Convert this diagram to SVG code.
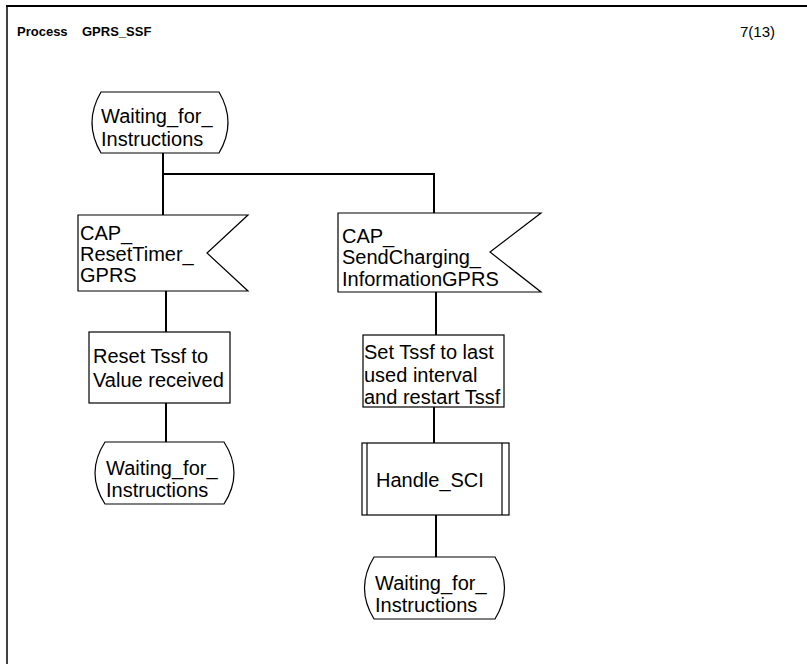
<svg xmlns="http://www.w3.org/2000/svg" width="807" height="664" viewBox="0 0 807 664">
<style>
.shape{fill:#fff;stroke:#000;stroke-width:1.2}
.conn{fill:none;stroke:#000;stroke-width:2}
.lbl{font-family:"Liberation Sans",Arial,sans-serif;font-size:20px;fill:#000}
.hdr{font-family:"Liberation Sans",Arial,sans-serif;font-size:13px;fill:#000}
.pg{font-size:15px}
</style>
<rect x="0" y="0" width="807" height="664" fill="#fff"/>
<g id="frame">
<line x1="6" y1="6" x2="807" y2="6" stroke="#000" stroke-width="2"/>
<line x1="7" y1="6" x2="7" y2="664" stroke="#000" stroke-width="1.5"/>
<text class="hdr" x="17" y="36" font-weight="bold">Process</text>
<text class="hdr" x="82" y="36" font-weight="bold">GPRS_SSF</text>
<text class="hdr pg" x="740" y="37">7(13)</text>
</g>
<g id="connectors">
<polyline class="conn" points="163,153 163,215"/>
<polyline class="conn" points="163,174 434,174 434,213"/>
<line class="conn" x1="166" y1="291" x2="166" y2="332"/>
<line class="conn" x1="166" y1="403" x2="166" y2="442"/>
<line class="conn" x1="436" y1="292" x2="436" y2="335"/>
<line class="conn" x1="434" y1="407" x2="434" y2="443"/>
<line class="conn" x1="436" y1="515" x2="436" y2="557"/>
</g>
<g id="state1">
<path class="shape" d="M101,92 L219,92 Q237,122.5 219,153 L101,153 Q83,122.5 101,92 Z"/>
<text class="lbl" x="101" y="123">Waiting_for_</text>
<text class="lbl" x="101" y="146">Instructions</text>
</g>
<g id="signal1">
<path class="shape" d="M78,215 L248,215 L207,253 L248,291 L78,291 Z"/>
<text class="lbl" x="80" y="240">CAP_</text>
<text class="lbl" x="80" y="261">ResetTimer_</text>
<text class="lbl" x="80" y="282">GPRS</text>
</g>
<g id="signal2">
<path class="shape" d="M338,213 L541,213 L490,252 L541,292 L338,292 Z"/>
<text class="lbl" x="342" y="243">CAP_</text>
<text class="lbl" x="342" y="264">SendCharging_</text>
<text class="lbl" x="342" y="286">InformationGPRS</text>
</g>
<g id="task1">
<rect class="shape" x="89" y="332" width="141" height="71"/>
<text class="lbl" x="93" y="363">Reset Tssf to</text>
<text class="lbl" x="93" y="387">Value received</text>
</g>
<g id="state2">
<path class="shape" d="M105,442 L224,442 Q244,473 224,504 L105,504 Q85,473 105,442 Z"/>
<text class="lbl" x="106" y="475">Waiting_for_</text>
<text class="lbl" x="106" y="497">Instructions</text>
</g>
<g id="task2">
<rect class="shape" x="363" y="335" width="141" height="72"/>
<text class="lbl" x="364" y="359">Set Tssf to last</text>
<text class="lbl" x="364" y="382">used interval</text>
<text class="lbl" x="364" y="404">and restart Tssf</text>
</g>
<g id="procedure">
<rect class="shape" x="362" y="443" width="147" height="72"/>
<line class="shape" x1="367" y1="443" x2="367" y2="515"/>
<line class="shape" x1="502" y1="443" x2="502" y2="515"/>
<text class="lbl" x="376" y="487">Handle_SCI</text>
</g>
<g id="state3">
<path class="shape" d="M374,557 L495,557 Q514,588 495,619 L374,619 Q355,588 374,557 Z"/>
<text class="lbl" x="375" y="590">Waiting_for_</text>
<text class="lbl" x="375" y="612">Instructions</text>
</g>
</svg>
